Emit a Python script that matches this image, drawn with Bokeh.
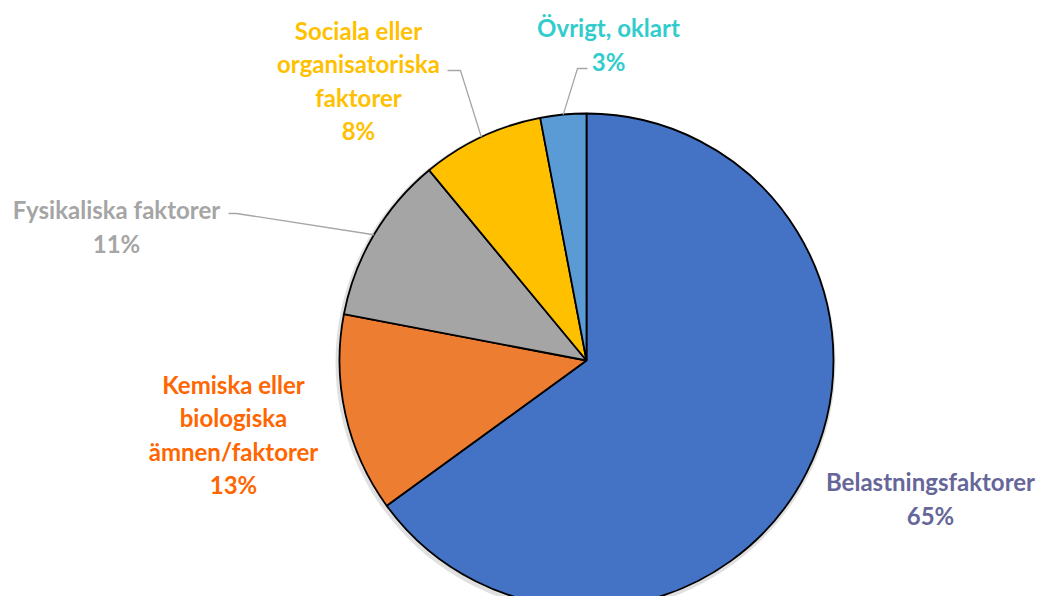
import math
from bokeh.plotting import figure
from bokeh.models import Range1d
from bokeh.core.properties import value
from bokeh.embed import file_html
from bokeh.resources import INLINE

# ---- data ----
categories = ["Belastningsfaktorer", "Kemiska eller\nbiologiska\nämnen/faktorer",
              "Fysikaliska faktorer", "Sociala eller\norganisatoriska\nfaktorer", "Övrigt, oklart"]
shares = [65, 13, 11, 8, 3]
slice_colors = ["#4472C4", "#ED7D31", "#A5A5A5", "#FFC000", "#5B9BD5"]
label_colors = ["#666699", "#FF6600", "#A5A5A5", "#FFC000", "#33CCCC"]

# ---- layout (image pixel coords, y down) ----
W, H = 1039, 596
CX, CY, R = 586, 360, 247
label_pos = [(930, 498), (233, 434), (116, 226), (358, 80), (608, 44)]
leaders = [None, None, [(228, 213), (236, 213)], [(447, 70), (460, 70)], [(587, 68), (577, 68)]]

def Y(y):
    return H - y

p = figure(width=W, height=H, output_backend="svg", toolbar_location=None,
           x_range=Range1d(0, W), y_range=Range1d(0, H), min_border=0)
p.axis.visible = False
p.grid.visible = False
p.outline_line_color = None

total = sum(shares)
starts, ends, mids = [], [], []
cum = 0.0
for s in shares:
    a0 = math.pi / 2 - 2 * math.pi * cum / total
    cum += s
    a1 = math.pi / 2 - 2 * math.pi * cum / total
    starts.append(a0)
    ends.append(a1)
    mids.append((a0 + a1) / 2)

# soft shadow
p.circle(x=[CX - 1], y=[Y(CY + 2)], radius=R + 3, fill_color="#000000", fill_alpha=0.12, line_color=None)
p.wedge(x=[CX] * len(shares), y=[Y(CY)] * len(shares), radius=R,
        start_angle=starts, end_angle=ends, direction="clock",
        fill_color=slice_colors, line_color="black", line_width=1.8)

# leader lines
for i, ld in enumerate(leaders):
    if ld is None:
        continue
    ex = CX + R * math.cos(mids[i])
    ey = Y(CY) + R * math.sin(mids[i])
    xs = [ld[0][0], ld[1][0], ex]
    ys = [Y(ld[0][1]), Y(ld[1][1]), ey]
    p.line(xs, ys, line_color="#A6A6A6", line_width=1.3)

# labels
texts = [f"{c}\n{s}%" for c, s in zip(categories, shares)]
p.text(x=[lp[0] for lp in label_pos], y=[Y(lp[1]) for lp in label_pos], text=texts,
       text_color=label_colors, text_font=value("Lato"), text_font_style="bold",
       text_font_size="24px", text_align="center", text_baseline="middle",
       text_line_height=1.15)

open("out.html", "w").write(file_html(p, INLINE))
